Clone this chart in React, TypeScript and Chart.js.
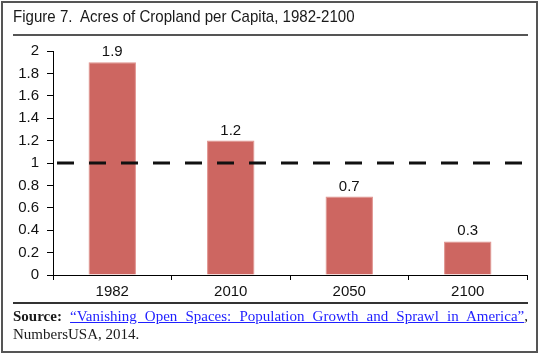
import React, { useEffect, useRef } from "react";
import { Chart, registerables } from "chart.js";

Chart.register(...registerables);

const categories: string[] = ["1982", "2010", "2050", "2100"];
const acresPerCapita: number[] = [1.9, 1.2, 0.7, 0.3];
const referenceValue = 1;
const yMin = 0;
const yMax = 2;
const yStep = 0.2;

const titleText = "Figure 7.  Acres of Cropland per Capita, 1982-2100";
const sourceLabel = "Source:";
const sourceLink = "“Vanishing Open Spaces: Population Growth and Sprawl in America”";
const sourceRest = "NumbersUSA, 2014.";

export default function App() {
  const canvasRef = useRef<HTMLCanvasElement | null>(null);

  useEffect(() => {
    document.body.style.margin = "0";
    const canvas = canvasRef.current;
    if (!canvas) return;

    const valueLabels = {
      id: "valueLabels",
      afterDatasetsDraw(chart: any) {
        const ctx = chart.ctx;
        const meta = chart.getDatasetMeta(0);
        ctx.save();
        ctx.font = "15px 'Liberation Sans', Arial, sans-serif";
        ctx.fillStyle = "#111";
        ctx.textAlign = "center";
        ctx.textBaseline = "alphabetic";
        meta.data.forEach((bar: any, i: number) => {
          ctx.fillText(String(acresPerCapita[i]), bar.x, bar.y - 6);
        });
        ctx.restore();
      },
    };

    const refLine = {
      id: "refLine",
      afterDatasetsDraw(chart: any) {
        const ctx = chart.ctx;
        const y = chart.scales.y.getPixelForValue(referenceValue);
        const { left, right } = chart.chartArea;
        ctx.save();
        ctx.strokeStyle = "#111";
        ctx.lineWidth = 3;
        ctx.setLineDash([17, 15]);
        ctx.beginPath();
        ctx.moveTo(left + 4, y);
        ctx.lineTo(right - 5, y);
        ctx.stroke();
        ctx.restore();
      },
    };

    const chart = new Chart(canvas, {
      type: "bar",
      data: {
        labels: categories,
        datasets: [
          {
            data: acresPerCapita,
            backgroundColor: "rgb(205,102,97)",
            borderColor: "rgb(224,145,140)",
            borderWidth: 1,
            barPercentage: 0.4,
            categoryPercentage: 1,
          },
        ],
      },
      options: {
        responsive: false,
        animation: false,
        layout: { padding: { left: 0, right: 13, top: 51, bottom: 57 } },
        plugins: {
          legend: { display: false },
          tooltip: { enabled: false },
        },
        scales: {
          x: {
            grid: {
              display: true,
              drawOnChartArea: false,
              drawTicks: true,
              tickLength: 5,
              color: "#000",
              offset: true,
            },
            border: { display: true, color: "#000", width: 1 },
            ticks: {
              color: "#111",
              font: { family: "'Liberation Sans', Arial, sans-serif", size: 15 },
              padding: 3,
            },
            afterFit: (s: any) => {
              s.height = 25;
            },
          },
          y: {
            min: yMin,
            max: yMax,
            grid: {
              display: true,
              drawOnChartArea: false,
              drawTicks: true,
              tickLength: 6,
              color: "#000",
            },
            border: { display: true, color: "#000", width: 1 },
            ticks: {
              stepSize: yStep,
              color: "#111",
              font: { family: "'Liberation Sans', Arial, sans-serif", size: 15 },
              padding: 8,
              callback: (v: any) => String(Number(Number(v).toFixed(1))),
            },
            afterFit: (s: any) => {
              s.width = 53;
            },
          },
        },
      },
      plugins: [refLine, valueLabels],
    });

    return () => chart.destroy();
  }, []);

  const abs = (o: React.CSSProperties): React.CSSProperties => ({ position: "absolute", ...o });

  return (
    <div style={{ position: "relative", width: 540, height: 357, background: "#fff", overflow: "hidden" }}>
      <canvas ref={canvasRef} width={540} height={357} style={abs({ left: 0, top: 0, width: 540, height: 357 })} />
      <div
        style={abs({
          left: 1,
          top: 1,
          width: 537,
          height: 352,
          border: "2px solid #555",
          boxSizing: "border-box",
        })}
      />
      <div
        style={abs({
          left: 13,
          top: 8,
          fontFamily: "'Liberation Sans', Arial, sans-serif",
          fontSize: "17px",
          lineHeight: "17px",
          color: "#1a1a1a",
          whiteSpace: "pre",
          transform: "scaleX(0.886)",
          transformOrigin: "0 0",
        })}
      >
        {titleText}
      </div>
      <div style={abs({ left: 13, top: 34, width: 515, height: 2, background: "#555" })} />
      <div style={abs({ left: 13, top: 302, width: 515, height: 2, background: "#333" })} />
      <div
        style={abs({
          left: 13,
          top: 308,
          width: 515,
          fontFamily: "'Liberation Serif', 'Times New Roman', serif",
          fontSize: "15px",
          lineHeight: "17.6px",
          color: "#1a1a1a",
          textAlign: "justify",
          textAlignLast: "justify",
        })}
      >
        <b>{sourceLabel}</b> <span style={{ color: "#1f1fff", textDecoration: "underline" }}>{sourceLink}</span>,
      </div>
      <div
        style={abs({
          left: 13,
          top: 325.6,
          fontFamily: "'Liberation Serif', 'Times New Roman', serif",
          fontSize: "15px",
          lineHeight: "17.6px",
          color: "#1a1a1a",
          whiteSpace: "pre",
        })}
      >
        {sourceRest}
      </div>
    </div>
  );
}
